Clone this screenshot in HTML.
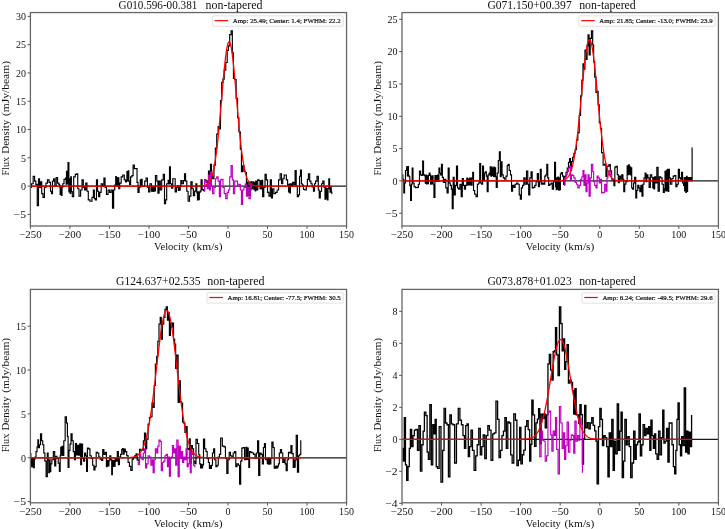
<!DOCTYPE html>
<html><head><meta charset="utf-8"><title>Spectra</title>
<style>
html,body{margin:0;padding:0;background:#fff;}
body{width:725px;height:529px;overflow:hidden;}
svg{display:block;}
svg text{font-family:"Liberation Serif", serif;fill:#111;}
</style></head><body>
<svg width="725" height="529" viewBox="0 0 725 529">
<rect width="725" height="529" fill="#fff"/>
<clipPath id="clip_p1"><rect x="30.4" y="12.55" width="316.15" height="213.45"/></clipPath>
<g clip-path="url(#clip_p1)" fill="none" stroke-linejoin="miter">
<path d="M30.4 186.05H346.55" stroke="#1a1a1a" stroke-width="1.25"/>
<path d="M30.75 187.46H31.56V183.73H33.18V176.21H34.61V181.19H35.86V184.35H37.24V205.56H38.49V178.7H39.54V187.46H40.61V181.81H41.73V193.68H42.98V197.42H44.42V187.46H45.97V183.05H47.47V179.94H49.03V182.43H50.47V191.2H51.53V193.68H52.47V181.19H53.59V178.7H54.84V186.22H56.21V177.45H57.58V183.05H58.83V184.35H59.64V187.01H60.15V194.42H60.77V186.28H61.39V195.38H62.02V187.29H62.77V183.73H64.01V179.32H65.45V178.08H66.13V184.07H66.51V171.23H67.13V183.9H68.01V162.47H68.88V192.04H69.5V178.81H70.13V193.46H70.75V176.89H71.38V191.59H72.31V196.79H73.68V176.83H75.25V174.34H76.68V173.72H77.74V188.71H78.99V196.17H80.62V189.95H82.05V179.94H83.3V187.46H84.55V189.95H85.73V183.05H86.98V191.2H88.29V199.9H89.97V201.21H91.97V197.42H93.41V189.95H94.35V198.66H95.41V199.9H96.47V179.94H97.53V191.2H98.65V196.79H99.78V192.44H101.15V183.73H102.58V186.22H103.9V178.08H105.08V187.46H106.45V194.31H108.07V189.95H109.64V192.44H111.13V189.95H112.5V208.05H113.63V189.95H114.76V185.15H115.69V176.55H116.32V184.81H116.94V177.57H117.57V186.16H118.19V177.91H118.81V188.71H119.74V183.05H121.18V176.83H122.74V174.97H124.24V179.94H125.61V181.81H126.42V180.79H126.92V171.63H127.55V180.85H128.17V170.84H128.8V181.13H129.54V184.35H130.6V176.83H131.85V175.59H133.1V164.96H134.35V168.75H135.78V168.46H137.03V182.43H137.97V192.44H139.09V187.46H139.84V186.39H140.28V179.83H140.91V186.79H141.53V179.21H142.15V186.22H143.27V186.22H144.71V181.19H146.08V178.08H147.45V187.46H148.58V191.82H149.89V183.73H151.45V191.08H152.51V186.95H153.13V191.54H153.76V187.01H154.38V191.03H155.45V175.59H156.82V181.19H157.94V193.06H159.07V181.19H160.31V189.95H161.69V179.94H163.25V174.34H164.5V203.69H165.55V199.9H166.68V183.73H167.49V183.73H168.12V180.28H168.74V183.96H169.49V166.88H170.42V183.73H171.55V188.09H172.79V178.7H174.04V178.7H175.17V191.82H176.42V187.46H177.6V185.77H178.35V190.46H178.98V185.71H179.6V190.18H180.22V185.82H180.84V180.56H181.97V183.73H183.41V180.56H184.53V173.72H185.59V181.19H186.78V191.2H188.09V201.21H189.52V196.17H190.89V181.81H192.14V188.71H193.39V195.55H194.64V191.19H195.89V183.72H196.83V192.6H197.45V199.88H198.07V191.73H198.7V199.75H199.32V192.44H200.13V191.1H201.07V179.79H202.13V189.67H203.44V190.67H204.55V179.8H205.8V180.91H207.23V186.23H208.48V171.03H209.54V184.59H210.48V164.37H211.48V175.93H212.61V178.77H213.98V165.06H215.35V148.17H216.72V134.16H218.09V126.62H219.34V128.83H220.47V100.49H221.71V82.4H222.96V79.17H224.21V70.17H225.77V62.53H227.2V50.38H228.45V45.81H229.7V34.62H231.08V30.77H232.33V52.71H233.45V78.3H234.7V79.45H236.13V98.32H237.57V117.72H238.94V131.86H240.32V149.16H241.44V171.62H242.56V165.8H243.93V171.26H245.3V172.48H246.43V187.94H247.56V182.03H248.93V195.47H250.3V181.75H251.55V188.76H252.8V181.73H253.55V182.2H253.99V189.76H254.61V182.75H255.23V190.82H255.73V180.96H256.54V189.83H257.79V179.88H259.04V180.53H259.98V188.57H260.6V181.11H261.23V188.81H261.85V180.27H262.66V196.79H263.78V187.46H265.03V174.34H266.28V179.94H267.53V192.44H268.9V196.17H270.27V179.94H271.39V198.04H272.52V188.71H273.89V193.68H275.58V192.44H277.14V189.95H278.57V179.94H280.13V173.72H281.51V183.73H282.75V178.7H284.13V174.97H285.31V174.97H286.36V179.94H287.61V184.86H288.55V191.99H289.17V184.07H289.8V193.01H290.42V183.9H291.35V186.22H292.6V182.43H293.85V184.98H295.1V170.61H296.22V186.22H297.29V196.79H298.47V194.93H299.53V176.21H300.47V169.99H301.4V183.73H302.34V184.98H303.46V189.33H304.9V189.95H306.34V186.22H307.39V179.32H308.45V173.72H309.7V181.19H310.95V183.73H312.2V186.84H313.45V191.2H314.51V183.73H315.57V181.19H317.01V176.21H318.32V189.95H319.25V198.04H320.31V191.2H321.56V183.73H322.81V181.19H324.06V187.46H324.99V199.06H325.62V187.92H326.24V198.89H326.87V188.54H327.49V199.9H327.99V188.71H328.8V178.7H329.55V186.56H329.99V192.27H330.61V187.01H331.24V192.1H331.86V193.68H332.17" stroke="#000" stroke-width="1.15"/>
<path d="M204.12 191.2H204.55V180.56H205.8V182.43H207.23V188.71H208.48V174.97H209.54V189.95H210.48V171.86H211.48V186.22H212.61V193.68H213.98V187.46H215.35V178.7H216.72V176.83H218.09V181.19H219.34V196.79H220.47V179.94H221.71V179.32H222.96V187.46H224.21V193.68H225.77V198.66H227.2V192.44H228.45V189.95H229.7V176.83H231.08V165.58H232.33V179.94H233.45V193.68H234.7V181.19H236.13V181.19H237.57V186.22H238.94V184.35H240.32V189.95H241.44V204.32H242.56V189.95H243.93V187.46H245.3V183.73H246.43V196.17H247.56V187.46H248.93V198.66H250.3V183.73H251.55V189.95H252.17" stroke="#bf00bf" stroke-width="1.15"/>
<path d="M30.4 186.05L30.8 186.05L31.19 186.05L31.59 186.05L31.98 186.05L32.38 186.05L32.77 186.05L33.17 186.05L33.56 186.05L33.96 186.05L34.35 186.05L34.75 186.05L35.14 186.05L35.54 186.05L35.93 186.05L36.33 186.05L36.72 186.05L37.12 186.05L37.51 186.05L37.91 186.05L38.3 186.05L38.7 186.05L39.09 186.05L39.49 186.05L39.88 186.05L40.28 186.05L40.67 186.05L41.07 186.05L41.47 186.05L41.86 186.05L42.26 186.05L42.65 186.05L43.05 186.05L43.44 186.05L43.84 186.05L44.23 186.05L44.63 186.05L45.02 186.05L45.42 186.05L45.81 186.05L46.21 186.05L46.6 186.05L47 186.05L47.39 186.05L47.79 186.05L48.18 186.05L48.58 186.05L48.97 186.05L49.37 186.05L49.76 186.05L50.16 186.05L50.55 186.05L50.95 186.05L51.34 186.05L51.74 186.05L52.14 186.05L52.53 186.05L52.93 186.05L53.32 186.05L53.72 186.05L54.11 186.05L54.51 186.05L54.9 186.05L55.3 186.05L55.69 186.05L56.09 186.05L56.48 186.05L56.88 186.05L57.27 186.05L57.67 186.05L58.06 186.05L58.46 186.05L58.85 186.05L59.25 186.05L59.64 186.05L60.04 186.05L60.43 186.05L60.83 186.05L61.22 186.05L61.62 186.05L62.02 186.05L62.41 186.05L62.81 186.05L63.2 186.05L63.6 186.05L63.99 186.05L64.39 186.05L64.78 186.05L65.18 186.05L65.57 186.05L65.97 186.05L66.36 186.05L66.76 186.05L67.15 186.05L67.55 186.05L67.94 186.05L68.34 186.05L68.73 186.05L69.13 186.05L69.52 186.05L69.92 186.05L70.31 186.05L70.71 186.05L71.1 186.05L71.5 186.05L71.89 186.05L72.29 186.05L72.69 186.05L73.08 186.05L73.48 186.05L73.87 186.05L74.27 186.05L74.66 186.05L75.06 186.05L75.45 186.05L75.85 186.05L76.24 186.05L76.64 186.05L77.03 186.05L77.43 186.05L77.82 186.05L78.22 186.05L78.61 186.05L79.01 186.05L79.4 186.05L79.8 186.05L80.19 186.05L80.59 186.05L80.98 186.05L81.38 186.05L81.77 186.05L82.17 186.05L82.56 186.05L82.96 186.05L83.36 186.05L83.75 186.05L84.15 186.05L84.54 186.05L84.94 186.05L85.33 186.05L85.73 186.05L86.12 186.05L86.52 186.05L86.91 186.05L87.31 186.05L87.7 186.05L88.1 186.05L88.49 186.05L88.89 186.05L89.28 186.05L89.68 186.05L90.07 186.05L90.47 186.05L90.86 186.05L91.26 186.05L91.65 186.05L92.05 186.05L92.44 186.05L92.84 186.05L93.23 186.05L93.63 186.05L94.03 186.05L94.42 186.05L94.82 186.05L95.21 186.05L95.61 186.05L96 186.05L96.4 186.05L96.79 186.05L97.19 186.05L97.58 186.05L97.98 186.05L98.37 186.05L98.77 186.05L99.16 186.05L99.56 186.05L99.95 186.05L100.35 186.05L100.74 186.05L101.14 186.05L101.53 186.05L101.93 186.05L102.32 186.05L102.72 186.05L103.11 186.05L103.51 186.05L103.9 186.05L104.3 186.05L104.7 186.05L105.09 186.05L105.49 186.05L105.88 186.05L106.28 186.05L106.67 186.05L107.07 186.05L107.46 186.05L107.86 186.05L108.25 186.05L108.65 186.05L109.04 186.05L109.44 186.05L109.83 186.05L110.23 186.05L110.62 186.05L111.02 186.05L111.41 186.05L111.81 186.05L112.2 186.05L112.6 186.05L112.99 186.05L113.39 186.05L113.78 186.05L114.18 186.05L114.57 186.05L114.97 186.05L115.37 186.05L115.76 186.05L116.16 186.05L116.55 186.05L116.95 186.05L117.34 186.05L117.74 186.05L118.13 186.05L118.53 186.05L118.92 186.05L119.32 186.05L119.71 186.05L120.11 186.05L120.5 186.05L120.9 186.05L121.29 186.05L121.69 186.05L122.08 186.05L122.48 186.05L122.87 186.05L123.27 186.05L123.66 186.05L124.06 186.05L124.45 186.05L124.85 186.05L125.25 186.05L125.64 186.05L126.04 186.05L126.43 186.05L126.83 186.05L127.22 186.05L127.62 186.05L128.01 186.05L128.41 186.05L128.8 186.05L129.2 186.05L129.59 186.05L129.99 186.05L130.38 186.05L130.78 186.05L131.17 186.05L131.57 186.05L131.96 186.05L132.36 186.05L132.75 186.05L133.15 186.05L133.54 186.05L133.94 186.05L134.33 186.05L134.73 186.05L135.12 186.05L135.52 186.05L135.92 186.05L136.31 186.05L136.71 186.05L137.1 186.05L137.5 186.05L137.89 186.05L138.29 186.05L138.68 186.05L139.08 186.05L139.47 186.05L139.87 186.05L140.26 186.05L140.66 186.05L141.05 186.05L141.45 186.05L141.84 186.05L142.24 186.05L142.63 186.05L143.03 186.05L143.42 186.05L143.82 186.05L144.21 186.05L144.61 186.05L145 186.05L145.4 186.05L145.79 186.05L146.19 186.05L146.59 186.05L146.98 186.05L147.38 186.05L147.77 186.05L148.17 186.05L148.56 186.05L148.96 186.05L149.35 186.05L149.75 186.05L150.14 186.05L150.54 186.05L150.93 186.05L151.33 186.05L151.72 186.05L152.12 186.05L152.51 186.05L152.91 186.05L153.3 186.05L153.7 186.05L154.09 186.05L154.49 186.05L154.88 186.05L155.28 186.05L155.67 186.05L156.07 186.05L156.46 186.05L156.86 186.05L157.26 186.05L157.65 186.05L158.05 186.05L158.44 186.05L158.84 186.05L159.23 186.05L159.63 186.05L160.02 186.05L160.42 186.05L160.81 186.05L161.21 186.05L161.6 186.05L162 186.05L162.39 186.05L162.79 186.05L163.18 186.05L163.58 186.05L163.97 186.05L164.37 186.05L164.76 186.05L165.16 186.05L165.55 186.05L165.95 186.05L166.34 186.05L166.74 186.05L167.13 186.05L167.53 186.05L167.93 186.05L168.32 186.05L168.72 186.05L169.11 186.05L169.51 186.05L169.9 186.05L170.3 186.05L170.69 186.05L171.09 186.05L171.48 186.05L171.88 186.05L172.27 186.05L172.67 186.05L173.06 186.05L173.46 186.05L173.85 186.05L174.25 186.05L174.64 186.05L175.04 186.05L175.43 186.05L175.83 186.05L176.22 186.05L176.62 186.05L177.01 186.05L177.41 186.05L177.8 186.05L178.2 186.05L178.6 186.05L178.99 186.05L179.39 186.05L179.78 186.05L180.18 186.05L180.57 186.05L180.97 186.05L181.36 186.05L181.76 186.05L182.15 186.05L182.55 186.05L182.94 186.05L183.34 186.05L183.73 186.05L184.13 186.05L184.52 186.05L184.92 186.05L185.31 186.05L185.71 186.05L186.1 186.05L186.5 186.05L186.89 186.05L187.29 186.05L187.68 186.05L188.08 186.05L188.48 186.05L188.87 186.05L189.27 186.05L189.66 186.05L190.06 186.05L190.45 186.05L190.85 186.05L191.24 186.05L191.64 186.05L192.03 186.05L192.43 186.05L192.82 186.05L193.22 186.05L193.61 186.05L194.01 186.05L194.4 186.05L194.8 186.05L195.19 186.05L195.59 186.04L195.98 186.04L196.38 186.04L196.77 186.04L197.17 186.04L197.56 186.03L197.96 186.03L198.35 186.02L198.75 186.01L199.15 186.01L199.54 185.99L199.94 185.98L200.33 185.97L200.73 185.95L201.12 185.92L201.52 185.9L201.91 185.86L202.31 185.83L202.7 185.78L203.1 185.72L203.49 185.66L203.89 185.58L204.28 185.49L204.68 185.38L205.07 185.25L205.47 185.11L205.86 184.94L206.26 184.74L206.65 184.51L207.05 184.24L207.44 183.94L207.84 183.59L208.23 183.19L208.63 182.74L209.02 182.23L209.42 181.64L209.82 180.99L210.21 180.25L210.61 179.43L211 178.51L211.4 177.48L211.79 176.34L212.19 175.09L212.58 173.7L212.98 172.18L213.37 170.52L213.77 168.7L214.16 166.73L214.56 164.59L214.95 162.28L215.35 159.8L215.74 157.14L216.14 154.3L216.53 151.29L216.93 148.09L217.32 144.71L217.72 141.16L218.11 137.44L218.51 133.56L218.9 129.53L219.3 125.36L219.69 121.06L220.09 116.66L220.49 112.17L220.88 107.61L221.28 103L221.67 98.37L222.07 93.73L222.46 89.13L222.86 84.58L223.25 80.12L223.65 75.77L224.04 71.57L224.44 67.54L224.83 63.71L225.23 60.12L225.62 56.78L226.02 53.73L226.41 50.98L226.81 48.57L227.2 46.5L227.6 44.8L227.99 43.48L228.39 42.56L228.78 42.03L229.18 41.91L229.57 42.2L229.97 42.88L230.36 43.97L230.76 45.44L231.16 47.28L231.55 49.49L231.95 52.04L232.34 54.91L232.74 58.08L233.13 61.53L233.53 65.22L233.92 69.13L234.32 73.23L234.71 77.5L235.11 81.89L235.5 86.39L235.9 90.97L236.29 95.58L236.69 100.22L237.08 104.85L237.48 109.44L237.87 113.98L238.27 118.43L238.66 122.79L239.06 127.04L239.45 131.16L239.85 135.13L240.24 138.94L240.64 142.6L241.03 146.08L241.43 149.39L241.83 152.51L242.22 155.46L242.62 158.23L243.01 160.82L243.41 163.23L243.8 165.46L244.2 167.54L244.59 169.45L244.99 171.2L245.38 172.81L245.78 174.27L246.17 175.6L246.57 176.81L246.96 177.9L247.36 178.89L247.75 179.77L248.15 180.56L248.54 181.26L248.94 181.89L249.33 182.44L249.73 182.93L250.12 183.36L250.52 183.74L250.91 184.07L251.31 184.35L251.71 184.6L252.1 184.82L252.5 185.01L252.89 185.17L253.29 185.31L253.68 185.43L254.08 185.53L254.47 185.61L254.87 185.69L255.26 185.75L255.66 185.8L256.05 185.84L256.45 185.88L256.84 185.91L257.24 185.93L257.63 185.96L258.03 185.97L258.42 185.99L258.82 186L259.21 186.01L259.61 186.02L260 186.02L260.4 186.03L260.79 186.03L261.19 186.04L261.58 186.04L261.98 186.04L262.38 186.04L262.77 186.04L263.17 186.05L263.56 186.05L263.96 186.05L264.35 186.05L264.75 186.05L265.14 186.05L265.54 186.05L265.93 186.05L266.33 186.05L266.72 186.05L267.12 186.05L267.51 186.05L267.91 186.05L268.3 186.05L268.7 186.05L269.09 186.05L269.49 186.05L269.88 186.05L270.28 186.05L270.67 186.05L271.07 186.05L271.46 186.05L271.86 186.05L272.25 186.05L272.65 186.05L273.05 186.05L273.44 186.05L273.84 186.05L274.23 186.05L274.63 186.05L275.02 186.05L275.42 186.05L275.81 186.05L276.21 186.05L276.6 186.05L277 186.05L277.39 186.05L277.79 186.05L278.18 186.05L278.58 186.05L278.97 186.05L279.37 186.05L279.76 186.05L280.16 186.05L280.55 186.05L280.95 186.05L281.34 186.05L281.74 186.05L282.13 186.05L282.53 186.05L282.92 186.05L283.32 186.05L283.72 186.05L284.11 186.05L284.51 186.05L284.9 186.05L285.3 186.05L285.69 186.05L286.09 186.05L286.48 186.05L286.88 186.05L287.27 186.05L287.67 186.05L288.06 186.05L288.46 186.05L288.85 186.05L289.25 186.05L289.64 186.05L290.04 186.05L290.43 186.05L290.83 186.05L291.22 186.05L291.62 186.05L292.01 186.05L292.41 186.05L292.8 186.05L293.2 186.05L293.59 186.05L293.99 186.05L294.39 186.05L294.78 186.05L295.18 186.05L295.57 186.05L295.97 186.05L296.36 186.05L296.76 186.05L297.15 186.05L297.55 186.05L297.94 186.05L298.34 186.05L298.73 186.05L299.13 186.05L299.52 186.05L299.92 186.05L300.31 186.05L300.71 186.05L301.1 186.05L301.5 186.05L301.89 186.05L302.29 186.05L302.68 186.05L303.08 186.05L303.47 186.05L303.87 186.05L304.26 186.05L304.66 186.05L305.06 186.05L305.45 186.05L305.85 186.05L306.24 186.05L306.64 186.05L307.03 186.05L307.43 186.05L307.82 186.05L308.22 186.05L308.61 186.05L309.01 186.05L309.4 186.05L309.8 186.05L310.19 186.05L310.59 186.05L310.98 186.05L311.38 186.05L311.77 186.05L312.17 186.05L312.56 186.05L312.96 186.05L313.35 186.05L313.75 186.05L314.14 186.05L314.54 186.05L314.94 186.05L315.33 186.05L315.73 186.05L316.12 186.05L316.52 186.05L316.91 186.05L317.31 186.05L317.7 186.05L318.1 186.05L318.49 186.05L318.89 186.05L319.28 186.05L319.68 186.05L320.07 186.05L320.47 186.05L320.86 186.05L321.26 186.05L321.65 186.05L322.05 186.05L322.44 186.05L322.84 186.05L323.23 186.05L323.63 186.05L324.02 186.05L324.42 186.05L324.81 186.05L325.21 186.05L325.61 186.05L326 186.05L326.4 186.05L326.79 186.05L327.19 186.05L327.58 186.05L327.98 186.05L328.37 186.05L328.77 186.05L329.16 186.05L329.56 186.05L329.95 186.05L330.35 186.05L330.74 186.05L331.14 186.05L331.53 186.05L331.93 186.05" stroke="#f00" stroke-width="1.3" stroke-linejoin="round"/>
</g>
<rect x="30.4" y="12.55" width="316.15" height="213.45" fill="none" stroke="#666" stroke-width="1.3"/>
<path d="M30.4 226v2.8M69.92 226v2.8M109.44 226v2.8M148.96 226v2.8M188.48 226v2.8M227.99 226v2.8M267.51 226v2.8M307.03 226v2.8M346.55 226v2.8M30.4 214.33h-2.8M30.4 186.05h-2.8M30.4 157.78h-2.8M30.4 129.5h-2.8M30.4 101.23h-2.8M30.4 72.95h-2.8M30.4 44.68h-2.8M30.4 16.4h-2.8" stroke="#555" stroke-width="1.0" fill="none"/>
<text x="30.4" y="238.1" text-anchor="middle" font-size="9.7" textLength="22.4" lengthAdjust="spacingAndGlyphs">−250</text>
<text x="69.92" y="238.1" text-anchor="middle" font-size="9.7" textLength="22.4" lengthAdjust="spacingAndGlyphs">−200</text>
<text x="109.44" y="238.1" text-anchor="middle" font-size="9.7" textLength="22.4" lengthAdjust="spacingAndGlyphs">−150</text>
<text x="148.96" y="238.1" text-anchor="middle" font-size="9.7" textLength="22.4" lengthAdjust="spacingAndGlyphs">−100</text>
<text x="188.48" y="238.1" text-anchor="middle" font-size="9.7" textLength="17.4" lengthAdjust="spacingAndGlyphs">−50</text>
<text x="227.99" y="238.1" text-anchor="middle" font-size="9.7" textLength="5" lengthAdjust="spacingAndGlyphs">0</text>
<text x="267.51" y="238.1" text-anchor="middle" font-size="9.7" textLength="10" lengthAdjust="spacingAndGlyphs">50</text>
<text x="307.03" y="238.1" text-anchor="middle" font-size="9.7" textLength="15" lengthAdjust="spacingAndGlyphs">100</text>
<text x="346.55" y="238.1" text-anchor="middle" font-size="9.7" textLength="15" lengthAdjust="spacingAndGlyphs">150</text>
<text x="26" y="218.08" text-anchor="end" font-size="9.7" textLength="12.4" lengthAdjust="spacingAndGlyphs">−5</text>
<text x="26" y="189.8" text-anchor="end" font-size="9.7" textLength="5" lengthAdjust="spacingAndGlyphs">0</text>
<text x="26" y="161.53" text-anchor="end" font-size="9.7" textLength="5" lengthAdjust="spacingAndGlyphs">5</text>
<text x="26" y="133.25" text-anchor="end" font-size="9.7" textLength="10" lengthAdjust="spacingAndGlyphs">10</text>
<text x="26" y="104.98" text-anchor="end" font-size="9.7" textLength="10" lengthAdjust="spacingAndGlyphs">15</text>
<text x="26" y="76.7" text-anchor="end" font-size="9.7" textLength="10" lengthAdjust="spacingAndGlyphs">20</text>
<text x="26" y="48.43" text-anchor="end" font-size="9.7" textLength="10" lengthAdjust="spacingAndGlyphs">25</text>
<text x="26" y="20.15" text-anchor="end" font-size="9.7" textLength="10" lengthAdjust="spacingAndGlyphs">30</text>
<text y="249.8" font-size="10"><tspan x="154.07" textLength="35" lengthAdjust="spacingAndGlyphs">Velocity</tspan><tspan x="192.78" textLength="29.8" lengthAdjust="spacingAndGlyphs">(km/s)</tspan></text>
<text transform="translate(8.9 119.28) rotate(-90)" y="0" font-size="10"><tspan x="-56.2" textLength="18.5" lengthAdjust="spacingAndGlyphs">Flux</tspan><tspan x="-34.4" textLength="33.8" lengthAdjust="spacingAndGlyphs">Density</tspan><tspan x="3.3" textLength="55" lengthAdjust="spacingAndGlyphs">(mJy/beam)</tspan></text>
<text y="8.7" font-size="12"><tspan x="118.6" textLength="78.7" lengthAdjust="spacingAndGlyphs">G010.596-00.381</tspan><tspan x="205.5" textLength="57" lengthAdjust="spacingAndGlyphs">non-tapered</tspan></text>
<rect x="212.35" y="15.85" width="130.9" height="10.4" rx="1.2" fill="#fff" fill-opacity="0.8" stroke="#ccc" stroke-width="0.6"/>
<path d="M214.65 20.65h13.5" stroke="#f00" stroke-width="1.2"/>
<text x="232.75" y="23.05" font-size="7.1" stroke="#111" stroke-width="0.22" textLength="108" lengthAdjust="spacingAndGlyphs">Amp: 25.49; Center: 1.4; FWHM: 22.2</text>
<clipPath id="clip_p2"><rect x="402" y="12.55" width="316.4" height="213.45"/></clipPath>
<g clip-path="url(#clip_p2)" fill="none" stroke-linejoin="miter">
<path d="M402 180.9H718.4" stroke="#1a1a1a" stroke-width="1.25"/>
<path d="M402.25 174.82H402.87V179.22H403.81V192.92H404.55V182.97H405.49V170.49H406.62V166.75H407.36V175.86H407.8V166.68H408.43V175.66H409.05V176.7H409.8V185.42H410.61V200.42H411.42V184.2H412.17V167.97H412.98V182.97H414.1V186.72H415.48V187.69H416.98V187.3H418.35V184.2H419.47V171.08H420.6V174.82H421.72V175.47H422.66V161.12H423.53V174.82H424.46V175.66H425.28V183.1H425.9V174.95H426.52V184H427.15V175.92H427.77V183.55H428.4V175.34H429.21V172.95H429.96V174.95H430.52V184.13H431.14V175.99H431.77V183.61H432.39V175.92H433.08V184.2H433.95V197.32H434.95V175.54H435.76V181.42H436.39V175.66H437.01V181.09H437.64V174.95H438.26V181.35H438.94V167.97H439.76V172.95H440.57V174.82H441.44V164.23H442.38V177.35H443.38V182.32H444.56V179.22H445.81V187.94H447.06V192.92H448.18V167.97H449.18V182.97H450.31V185.42H451.37V189.17H452.24V208.56H453.18V177.35H454.17V194.8H455.3V185.42H456.48V166.1H457.54V187.94H458.67V189.17H459.92V184.2H461.17V196.67H462.29V178.57H463.35V185.42H464.41V189.17H465.53V185.42H466.78V177.99H467.72V184.84H468.35V179.03H468.97V185.04H469.59V178.19H470.21V184.97H470.84V177.99H471.46V185.23H472.09V178.44H472.71V172.37H473.52V190.47H474.65V194.21H476.02V196.67H477.39V184.2H478.64V182.97H479.7V163.58H480.64V182.97H481.64V184.2H482.57V166.1H483.51V180.45H484.45V172.95H485.38V171.72H486.32V176.12H487.19V191.69H488.13V174.82H489.13V172.95H489.75V174.82H490.18V166.88H490.81V176.18H491.43V167H492.06V175.47H492.68V167.97H493.31V176.31H493.93V167.07H494.55V176.63H495.18V167.72H495.61V176.7H496.24V187.3H497.24V172.95H498.3V160.48H499.36V151.75H500.29V176.7H501.11V161.7H502.05V174.82H503.23V177.93H504.54V179.22H505.97V176.12H507.22V165.45H508.16V164.23H509.22V170.49H510.47V174.82H511.53V191.05H512.59V185.42H513.84V187.3H515.09V184.2H516.52V182.97H517.96V184.2H519.21V194.8H520.33V199.19H521.39V187.94H522.58V185.42H523.83V177.93H525.07V184.2H526.51V171.08H527.76V184.2H528.69V194.8H529.82V177.93H531.07V171.72H532.19V187.94H533.44V187.3H534.81V185.42H536.06V181.68H537.31V173.6H538.43V186.72H539.37V181.68H540.3V169.2H541.24V184.2H542.3V182.97H543.55V184.2H544.8V176.12H545.86V174.82H546.79V164.23H547.73V177.93H548.67V185.42H549.79V184.2H551.04V182.97H552.29V189.17H553.53V181.67H554.6V162.34H555.53V186.69H556.22V189.6H556.72V177.82H557.34V189.05H557.97V177.14H558.59V190.11H559.22V178.05H559.84V189.77H560.4V174.02H561.28V172.56H562.52V176.05H563.63V184.46H564.74V176.37H565.99V172.37H567.23V167.95H568.48V162.31H569.54V158.69H570.48V170.48H571.48V161.66H572.6V157.21H573.85V153.22H575.1V149.73H576.47V140.06H577.85V132.66H579.22V115.31H580.59V95.93H581.84V80.14H582.96V63.72H583.96V69.17H584.96V50.17H586.02V59.32H587.08V45.58H588.02V34.73H589.08V54.93H590.2V38.37H591.45V30.94H592.7V44.98H593.64V61.87H594.7V77.17H595.95V92.47H597.07V91.23H598.13V104.93H599.31V122.66H600.44V128.32H601.56V152.66H603.12V165.28H604.68V164.01H605.93V176.38H606.99V166.37H607.93V166.14H609.05V164.55H610.3V170.86H611.55V178.5H612.79V180.03H613.92V185.59H614.85V167.17H616.04V166.31H617.29V174.55H618.29V182.79H619.35V176.01H620.54V179.16H621.78V174.79H622.91V179.2H623.78V191.68H624.71V184.19H625.9V181.67H627.15V165.71H628.09V174.63H628.71V164.87H629.34V174.05H629.96V166.81H630.59V174.82H631.21V167.72H631.71V187.94H632.52V189.17H633.58V182.97H634.64V177.35H635.76V197.96H636.7V190.47H637.76V185.42H638.88V187.94H639.82V191.69H640.88V185.42H642.01V196.09H642.94V184.2H644V177.93H645.13V172.95H645.93V181.68H646.74V174.82H647.86V177.93H649.11V187.3H650.35V174.82H651.73V177.28H652.79V187.82H653.42V177.6H654.04V189.04H654.66V176.76H655.59V182.97H656.84V167.33H658.09V191.05H659.34V176.7H660.72V177.93H662.09V184.2H663.34V192.34H664.34V188.91H665.02V171.27H665.64V190.92H666.27V170.43H666.89V190.72H667.52V169.2H668.14V191.31H668.77V169.33H669.39V177.93H670.45V184.2H671.83V178.57H673.2V176.12H674.57V175.47H675.82V186.72H677.07V184.2H678.31V169.2H679.44V177.93H680.44V179.22H681.5V172.37H682.56V182.97H683.56V185.42H684.18V177.6H684.62V190.85H685.25V177.54H685.87V192.4H686.49V176.25H687.11V191.31H687.61V177.93H687.93V180.19H688.36V177.6H688.99V179.93H689.61V177.54H690.24V180.12H690.86V177.54H691.49V180.19H692.11V147.94H692.42" stroke="#000" stroke-width="1.15"/>
<path d="M564.12 185.42H564.74V177.93H565.99V174.82H567.23V171.72H568.48V167.97H569.54V166.1H570.48V180.45H571.48V174.82H572.6V175.47H573.85V177.93H575.1V182.32H576.47V184.2H577.85V187.94H579.22V185.42H580.59V179.22H581.84V176.7H582.96V170.49H583.96V185.42H584.96V174.82H586.02V191.69H587.08V182.97H588.02V174.82H589.08V196.09H590.2V177.93H591.45V164.23H592.7V171.72H593.64V181.68H594.7V185.42H595.95V187.94H597.07V176.12H598.13V177.93H599.31V182.97H600.44V179.22H601.56V192.92H603.12V192.34H604.68V184.2H605.93V191.05H606.99V177.93H607.93V174.82H609.05V170.49H610.3V174.82H611.55V181.09H612.17" stroke="#bf00bf" stroke-width="1.15"/>
<path d="M402 180.9L402.4 180.9L402.79 180.9L403.19 180.9L403.58 180.9L403.98 180.9L404.37 180.9L404.77 180.9L405.16 180.9L405.56 180.9L405.95 180.9L406.35 180.9L406.75 180.9L407.14 180.9L407.54 180.9L407.93 180.9L408.33 180.9L408.72 180.9L409.12 180.9L409.51 180.9L409.91 180.9L410.31 180.9L410.7 180.9L411.1 180.9L411.49 180.9L411.89 180.9L412.28 180.9L412.68 180.9L413.07 180.9L413.47 180.9L413.87 180.9L414.26 180.9L414.66 180.9L415.05 180.9L415.45 180.9L415.84 180.9L416.24 180.9L416.63 180.9L417.03 180.9L417.42 180.9L417.82 180.9L418.22 180.9L418.61 180.9L419.01 180.9L419.4 180.9L419.8 180.9L420.19 180.9L420.59 180.9L420.98 180.9L421.38 180.9L421.77 180.9L422.17 180.9L422.57 180.9L422.96 180.9L423.36 180.9L423.75 180.9L424.15 180.9L424.54 180.9L424.94 180.9L425.33 180.9L425.73 180.9L426.13 180.9L426.52 180.9L426.92 180.9L427.31 180.9L427.71 180.9L428.1 180.9L428.5 180.9L428.89 180.9L429.29 180.9L429.69 180.9L430.08 180.9L430.48 180.9L430.87 180.9L431.27 180.9L431.66 180.9L432.06 180.9L432.45 180.9L432.85 180.9L433.24 180.9L433.64 180.9L434.04 180.9L434.43 180.9L434.83 180.9L435.22 180.9L435.62 180.9L436.01 180.9L436.41 180.9L436.8 180.9L437.2 180.9L437.6 180.9L437.99 180.9L438.39 180.9L438.78 180.9L439.18 180.9L439.57 180.9L439.97 180.9L440.36 180.9L440.76 180.9L441.15 180.9L441.55 180.9L441.95 180.9L442.34 180.9L442.74 180.9L443.13 180.9L443.53 180.9L443.92 180.9L444.32 180.9L444.71 180.9L445.11 180.9L445.5 180.9L445.9 180.9L446.3 180.9L446.69 180.9L447.09 180.9L447.48 180.9L447.88 180.9L448.27 180.9L448.67 180.9L449.06 180.9L449.46 180.9L449.86 180.9L450.25 180.9L450.65 180.9L451.04 180.9L451.44 180.9L451.83 180.9L452.23 180.9L452.62 180.9L453.02 180.9L453.41 180.9L453.81 180.9L454.21 180.9L454.6 180.9L455 180.9L455.39 180.9L455.79 180.9L456.18 180.9L456.58 180.9L456.97 180.9L457.37 180.9L457.77 180.9L458.16 180.9L458.56 180.9L458.95 180.9L459.35 180.9L459.74 180.9L460.14 180.9L460.53 180.9L460.93 180.9L461.32 180.9L461.72 180.9L462.12 180.9L462.51 180.9L462.91 180.9L463.3 180.9L463.7 180.9L464.09 180.9L464.49 180.9L464.88 180.9L465.28 180.9L465.68 180.9L466.07 180.9L466.47 180.9L466.86 180.9L467.26 180.9L467.65 180.9L468.05 180.9L468.44 180.9L468.84 180.9L469.24 180.9L469.63 180.9L470.03 180.9L470.42 180.9L470.82 180.9L471.21 180.9L471.61 180.9L472 180.9L472.4 180.9L472.79 180.9L473.19 180.9L473.59 180.9L473.98 180.9L474.38 180.9L474.77 180.9L475.17 180.9L475.56 180.9L475.96 180.9L476.35 180.9L476.75 180.9L477.14 180.9L477.54 180.9L477.94 180.9L478.33 180.9L478.73 180.9L479.12 180.9L479.52 180.9L479.91 180.9L480.31 180.9L480.7 180.9L481.1 180.9L481.5 180.9L481.89 180.9L482.29 180.9L482.68 180.9L483.08 180.9L483.47 180.9L483.87 180.9L484.26 180.9L484.66 180.9L485.06 180.9L485.45 180.9L485.85 180.9L486.24 180.9L486.64 180.9L487.03 180.9L487.43 180.9L487.82 180.9L488.22 180.9L488.61 180.9L489.01 180.9L489.41 180.9L489.8 180.9L490.2 180.9L490.59 180.9L490.99 180.9L491.38 180.9L491.78 180.9L492.17 180.9L492.57 180.9L492.96 180.9L493.36 180.9L493.76 180.9L494.15 180.9L494.55 180.9L494.94 180.9L495.34 180.9L495.73 180.9L496.13 180.9L496.52 180.9L496.92 180.9L497.32 180.9L497.71 180.9L498.11 180.9L498.5 180.9L498.9 180.9L499.29 180.9L499.69 180.9L500.08 180.9L500.48 180.9L500.88 180.9L501.27 180.9L501.67 180.9L502.06 180.9L502.46 180.9L502.85 180.9L503.25 180.9L503.64 180.9L504.04 180.9L504.43 180.9L504.83 180.9L505.23 180.9L505.62 180.9L506.02 180.9L506.41 180.9L506.81 180.9L507.2 180.9L507.6 180.9L507.99 180.9L508.39 180.9L508.78 180.9L509.18 180.9L509.58 180.9L509.97 180.9L510.37 180.9L510.76 180.9L511.16 180.9L511.55 180.9L511.95 180.9L512.34 180.9L512.74 180.9L513.14 180.9L513.53 180.9L513.93 180.9L514.32 180.9L514.72 180.9L515.11 180.9L515.51 180.9L515.9 180.9L516.3 180.9L516.69 180.9L517.09 180.9L517.49 180.9L517.88 180.9L518.28 180.9L518.67 180.9L519.07 180.9L519.46 180.9L519.86 180.9L520.25 180.9L520.65 180.9L521.05 180.9L521.44 180.9L521.84 180.9L522.23 180.9L522.63 180.9L523.02 180.9L523.42 180.9L523.81 180.9L524.21 180.9L524.61 180.9L525 180.9L525.4 180.9L525.79 180.9L526.19 180.9L526.58 180.9L526.98 180.9L527.37 180.9L527.77 180.9L528.16 180.9L528.56 180.9L528.96 180.9L529.35 180.9L529.75 180.9L530.14 180.9L530.54 180.9L530.93 180.9L531.33 180.9L531.72 180.9L532.12 180.9L532.51 180.9L532.91 180.9L533.31 180.9L533.7 180.9L534.1 180.9L534.49 180.9L534.89 180.9L535.28 180.9L535.68 180.9L536.07 180.9L536.47 180.9L536.87 180.9L537.26 180.9L537.66 180.9L538.05 180.9L538.45 180.9L538.84 180.9L539.24 180.9L539.63 180.9L540.03 180.9L540.42 180.9L540.82 180.9L541.22 180.9L541.61 180.9L542.01 180.9L542.4 180.9L542.8 180.9L543.19 180.9L543.59 180.9L543.98 180.9L544.38 180.9L544.78 180.9L545.17 180.9L545.57 180.9L545.96 180.9L546.36 180.9L546.75 180.9L547.15 180.9L547.54 180.9L547.94 180.9L548.34 180.9L548.73 180.9L549.13 180.9L549.52 180.9L549.92 180.9L550.31 180.9L550.71 180.9L551.1 180.9L551.5 180.9L551.89 180.9L552.29 180.9L552.69 180.9L553.08 180.9L553.48 180.89L553.87 180.89L554.27 180.89L554.66 180.89L555.06 180.89L555.45 180.88L555.85 180.88L556.25 180.87L556.64 180.87L557.04 180.86L557.43 180.85L557.83 180.84L558.22 180.83L558.62 180.81L559.01 180.79L559.41 180.77L559.8 180.75L560.2 180.72L560.6 180.68L560.99 180.64L561.39 180.59L561.78 180.53L562.18 180.46L562.57 180.38L562.97 180.29L563.36 180.19L563.76 180.06L564.15 179.92L564.55 179.76L564.95 179.57L565.34 179.35L565.74 179.11L566.13 178.83L566.53 178.52L566.92 178.16L567.32 177.76L567.71 177.3L568.11 176.8L568.51 176.23L568.9 175.59L569.3 174.89L569.69 174.1L570.09 173.23L570.48 172.28L570.88 171.22L571.27 170.07L571.67 168.8L572.07 167.42L572.46 165.92L572.86 164.29L573.25 162.53L573.65 160.64L574.04 158.6L574.44 156.41L574.83 154.08L575.23 151.6L575.62 148.96L576.02 146.17L576.42 143.23L576.81 140.14L577.21 136.9L577.6 133.52L578 130L578.39 126.36L578.79 122.59L579.18 118.72L579.58 114.75L579.98 110.7L580.37 106.58L580.77 102.41L581.16 98.2L581.56 93.99L581.95 89.77L582.35 85.59L582.74 81.45L583.14 77.39L583.53 73.42L583.93 69.57L584.33 65.87L584.72 62.32L585.12 58.97L585.51 55.82L585.91 52.9L586.3 50.24L586.7 47.84L587.09 45.72L587.49 43.9L587.88 42.4L588.28 41.22L588.68 40.37L589.07 39.85L589.47 39.68L589.86 39.85L590.26 40.37L590.65 41.22L591.05 42.4L591.44 43.9L591.84 45.72L592.24 47.84L592.63 50.24L593.03 52.9L593.42 55.82L593.82 58.97L594.21 62.32L594.61 65.87L595 69.57L595.4 73.42L595.79 77.39L596.19 81.45L596.59 85.59L596.98 89.77L597.38 93.99L597.77 98.2L598.17 102.41L598.56 106.58L598.96 110.7L599.35 114.75L599.75 118.72L600.15 122.59L600.54 126.36L600.94 130L601.33 133.52L601.73 136.9L602.12 140.14L602.52 143.23L602.91 146.17L603.31 148.96L603.7 151.6L604.1 154.08L604.5 156.41L604.89 158.6L605.29 160.64L605.68 162.53L606.08 164.29L606.47 165.92L606.87 167.42L607.26 168.8L607.66 170.07L608.06 171.22L608.45 172.28L608.85 173.23L609.24 174.1L609.64 174.89L610.03 175.59L610.43 176.23L610.82 176.8L611.22 177.3L611.62 177.76L612.01 178.16L612.41 178.52L612.8 178.83L613.2 179.11L613.59 179.35L613.99 179.57L614.38 179.76L614.78 179.92L615.17 180.06L615.57 180.19L615.97 180.29L616.36 180.38L616.76 180.46L617.15 180.53L617.55 180.59L617.94 180.64L618.34 180.68L618.73 180.72L619.13 180.75L619.52 180.77L619.92 180.79L620.32 180.81L620.71 180.83L621.11 180.84L621.5 180.85L621.9 180.86L622.29 180.87L622.69 180.87L623.08 180.88L623.48 180.88L623.88 180.89L624.27 180.89L624.67 180.89L625.06 180.89L625.46 180.89L625.85 180.9L626.25 180.9L626.64 180.9L627.04 180.9L627.43 180.9L627.83 180.9L628.23 180.9L628.62 180.9L629.02 180.9L629.41 180.9L629.81 180.9L630.2 180.9L630.6 180.9L630.99 180.9L631.39 180.9L631.79 180.9L632.18 180.9L632.58 180.9L632.97 180.9L633.37 180.9L633.76 180.9L634.16 180.9L634.55 180.9L634.95 180.9L635.35 180.9L635.74 180.9L636.14 180.9L636.53 180.9L636.93 180.9L637.32 180.9L637.72 180.9L638.11 180.9L638.51 180.9L638.9 180.9L639.3 180.9L639.7 180.9L640.09 180.9L640.49 180.9L640.88 180.9L641.28 180.9L641.67 180.9L642.07 180.9L642.46 180.9L642.86 180.9L643.25 180.9L643.65 180.9L644.05 180.9L644.44 180.9L644.84 180.9L645.23 180.9L645.63 180.9L646.02 180.9L646.42 180.9L646.81 180.9L647.21 180.9L647.61 180.9L648 180.9L648.4 180.9L648.79 180.9L649.19 180.9L649.58 180.9L649.98 180.9L650.37 180.9L650.77 180.9L651.16 180.9L651.56 180.9L651.96 180.9L652.35 180.9L652.75 180.9L653.14 180.9L653.54 180.9L653.93 180.9L654.33 180.9L654.72 180.9L655.12 180.9L655.52 180.9L655.91 180.9L656.31 180.9L656.7 180.9L657.1 180.9L657.49 180.9L657.89 180.9L658.28 180.9L658.68 180.9L659.08 180.9L659.47 180.9L659.87 180.9L660.26 180.9L660.66 180.9L661.05 180.9L661.45 180.9L661.84 180.9L662.24 180.9L662.63 180.9L663.03 180.9L663.43 180.9L663.82 180.9L664.22 180.9L664.61 180.9L665.01 180.9L665.4 180.9L665.8 180.9L666.19 180.9L666.59 180.9L666.98 180.9L667.38 180.9L667.78 180.9L668.17 180.9L668.57 180.9L668.96 180.9L669.36 180.9L669.75 180.9L670.15 180.9L670.54 180.9L670.94 180.9L671.34 180.9L671.73 180.9L672.13 180.9L672.52 180.9L672.92 180.9L673.31 180.9L673.71 180.9L674.1 180.9L674.5 180.9L674.89 180.9L675.29 180.9L675.69 180.9L676.08 180.9L676.48 180.9L676.87 180.9L677.27 180.9L677.66 180.9L678.06 180.9L678.45 180.9L678.85 180.9L679.25 180.9L679.64 180.9L680.04 180.9L680.43 180.9L680.83 180.9L681.22 180.9L681.62 180.9L682.01 180.9L682.41 180.9L682.8 180.9L683.2 180.9L683.6 180.9L683.99 180.9L684.39 180.9L684.78 180.9L685.18 180.9L685.57 180.9L685.97 180.9L686.36 180.9L686.76 180.9L687.16 180.9L687.55 180.9L687.95 180.9L688.34 180.9L688.74 180.9L689.13 180.9L689.53 180.9L689.92 180.9L690.32 180.9L690.71 180.9L691.11 180.9L691.51 180.9L691.9 180.9L692.3 180.9" stroke="#f00" stroke-width="1.3" stroke-linejoin="round"/>
</g>
<rect x="402" y="12.55" width="316.4" height="213.45" fill="none" stroke="#666" stroke-width="1.3"/>
<path d="M402 226v2.8M441.55 226v2.8M481.1 226v2.8M520.65 226v2.8M560.2 226v2.8M599.75 226v2.8M639.3 226v2.8M678.85 226v2.8M718.4 226v2.8M402 213.22h-2.8M402 180.9h-2.8M402 148.59h-2.8M402 116.27h-2.8M402 83.95h-2.8M402 51.64h-2.8M402 19.33h-2.8" stroke="#555" stroke-width="1.0" fill="none"/>
<text x="402" y="238.1" text-anchor="middle" font-size="9.7" textLength="22.4" lengthAdjust="spacingAndGlyphs">−250</text>
<text x="441.55" y="238.1" text-anchor="middle" font-size="9.7" textLength="22.4" lengthAdjust="spacingAndGlyphs">−200</text>
<text x="481.1" y="238.1" text-anchor="middle" font-size="9.7" textLength="22.4" lengthAdjust="spacingAndGlyphs">−150</text>
<text x="520.65" y="238.1" text-anchor="middle" font-size="9.7" textLength="22.4" lengthAdjust="spacingAndGlyphs">−100</text>
<text x="560.2" y="238.1" text-anchor="middle" font-size="9.7" textLength="17.4" lengthAdjust="spacingAndGlyphs">−50</text>
<text x="599.75" y="238.1" text-anchor="middle" font-size="9.7" textLength="5" lengthAdjust="spacingAndGlyphs">0</text>
<text x="639.3" y="238.1" text-anchor="middle" font-size="9.7" textLength="10" lengthAdjust="spacingAndGlyphs">50</text>
<text x="678.85" y="238.1" text-anchor="middle" font-size="9.7" textLength="15" lengthAdjust="spacingAndGlyphs">100</text>
<text x="718.4" y="238.1" text-anchor="middle" font-size="9.7" textLength="15" lengthAdjust="spacingAndGlyphs">150</text>
<text x="397.6" y="216.97" text-anchor="end" font-size="9.7" textLength="12.4" lengthAdjust="spacingAndGlyphs">−5</text>
<text x="397.6" y="184.65" text-anchor="end" font-size="9.7" textLength="5" lengthAdjust="spacingAndGlyphs">0</text>
<text x="397.6" y="152.34" text-anchor="end" font-size="9.7" textLength="5" lengthAdjust="spacingAndGlyphs">5</text>
<text x="397.6" y="120.02" text-anchor="end" font-size="9.7" textLength="10" lengthAdjust="spacingAndGlyphs">10</text>
<text x="397.6" y="87.7" text-anchor="end" font-size="9.7" textLength="10" lengthAdjust="spacingAndGlyphs">15</text>
<text x="397.6" y="55.39" text-anchor="end" font-size="9.7" textLength="10" lengthAdjust="spacingAndGlyphs">20</text>
<text x="397.6" y="23.08" text-anchor="end" font-size="9.7" textLength="10" lengthAdjust="spacingAndGlyphs">25</text>
<text y="249.8" font-size="10"><tspan x="525.8" textLength="35" lengthAdjust="spacingAndGlyphs">Velocity</tspan><tspan x="564.5" textLength="29.8" lengthAdjust="spacingAndGlyphs">(km/s)</tspan></text>
<text transform="translate(380.5 119.28) rotate(-90)" y="0" font-size="10"><tspan x="-56.2" textLength="18.5" lengthAdjust="spacingAndGlyphs">Flux</tspan><tspan x="-34.4" textLength="33.8" lengthAdjust="spacingAndGlyphs">Density</tspan><tspan x="3.3" textLength="55" lengthAdjust="spacingAndGlyphs">(mJy/beam)</tspan></text>
<text y="8.7" font-size="12"><tspan x="487.4" textLength="84.3" lengthAdjust="spacingAndGlyphs">G071.150+00.397</tspan><tspan x="579.2" textLength="56.6" lengthAdjust="spacingAndGlyphs">non-tapered</tspan></text>
<rect x="578.9" y="15.85" width="136.2" height="10.4" rx="1.2" fill="#fff" fill-opacity="0.8" stroke="#ccc" stroke-width="0.6"/>
<path d="M581.2 20.65h13.5" stroke="#f00" stroke-width="1.2"/>
<text x="599.3" y="23.05" font-size="7.1" stroke="#111" stroke-width="0.22" textLength="113.3" lengthAdjust="spacingAndGlyphs">Amp: 21.85; Center: -13.0; FWHM: 23.9</text>
<clipPath id="clip_p3"><rect x="30.4" y="289.4" width="316.15" height="213.4"/></clipPath>
<g clip-path="url(#clip_p3)" fill="none" stroke-linejoin="miter">
<path d="M30.4 457.75H346.55" stroke="#1a1a1a" stroke-width="1.25"/>
<path d="M30.72 453.63H30.86V458.63H31.47V466.7H32.42V457.84H33.38V467.75H34.33V458.89H35.15V457.05H36.03V451.61H37.05V446.88H37.87V439.77H38.55V447.66H39.43V444.77H40.52V433.9H41.61V440.74H42.7V444.77H43.79V453.01H44.88V461.17H46.1V476.78H47.33V453.01H48.15V460.47H48.76V472.57H49.44V459.77H50.12V471.69H50.8V463.89H51.82V459.77H53.32V451.61H54.68V465.91H55.77V456.35H56.99V458.45H58.22V463.19H59.37V471.34H60.19V455.56H60.73V447.31H61.41V455.12H62.09V446.35H62.77V455.47H63.8V440.74H65.16V416.88H66.45V423.02H67.41V436.61H68.09V467.31H68.97V450.3H69.99V444.16H71.01V433.9H72.1V440.74H73.26V451.61H74.42V459.77H75.44V443.45H76.46V454.94H77.55V445.21H78.63V455.29H79.72V443.81H80.68V464.59H81.56V444.16H82.58V458.45H83.6V461.17H84.62V453.01H85.71V455.73H86.6V471.34H87.41V448.19H88.57V448.89H89.93V455.73H91.29V458.45H92.65V465.2H93.88V470.03H95.03V466.61H96.19V452.31H97.42V453.01H98.78V457.05H100.14V459.15H101.5V460.47H102.73V449.59H103.89V454.33H105.18V452.31H106.4V466.61H107.08V465.91H107.56V460.29H108.24V465.82H108.92V460.73H109.8V455.73H110.82V459.77H111.71V474.76H112.39V460.21H113V466.52H113.68V460.64H114.36V466.26H115.11V458.45H116.13V461.17H117.29V451.61H118.38V464.59H119.47V457.04H120.63V454.32H121.71V449.58H122.46V448.61H123.21V454.05H124.16V449.12H125.34V451.56H126.72V455.64H128.08V462.33H129.44V466.36H130.81V470.34H132.17V459.15H133.53V457.51H134.89V455.62H136.11V453.77H137.14V459.91H138.29V460.87H139.52V449.38H140.74V450.12H142.1V450.23H143.33V440.85H144.49V433.11H145.57V448.89H146.73V439.07H148.09V424.12H149.45V417.49H150.81V416.57H152.04V403.09H153.13V407.45H154.22V385.45H155.37V364.01H156.67V356.21H157.82V341.24H158.98V323.98H160.2V317.22H161.29V339.26H162.45V324.26H163.74V317.47H164.97V309.36H166.19V306.92H167.42V320.24H168.44V312.91H169.39V335.48H170.41V323.04H171.43V327.27H172.45V323.19H173.54V339.09H174.64V343.96H175.66V368.4H176.81V355.09H178.1V402.4H179.26V380.88H180.35V401.78H181.44V402.98H182.6V422.08H183.75V423.16H184.91V432.36H186.06V426.48H187.16V448.49H188.25V449.4H189.33V438.82H190.28V463.21H191.24V445.62H192.4V448.85H193.55V461.05H194.78V463.73H196V439.31H197.36V443.45H198.73V454.79H199.75V463.89H200.56V467.89H201.24V464.23H201.92V467.83H202.61V464.83H203.49V439.14H204.64V448.77H205.94V451.54H207.16V458.4H208.39V462.46H209.41V468.34H210.09V465.54H210.77V468.35H211.45V465.28H212.47V453.01H213.63V448.89H214.65V459.77H215.88V466.61H217.1V465.2H218.26V457.05H219.41V454.33H220.64V438.02H222.36V446.17H224.08V446.88H225.44V458.45H226.81V473.45H228.03V459.77H229.19V452.31H230.48V455.73H231.84V457.05H233.2V453.01H234.56V451.61H235.79V466.61H237.01V463.89H238.38V465.2H239.6V484.06H240.69V461.17H241.85V448.19H243.14V447.49H244.5V459.77H245.86V447.4H246.88V459.5H247.56V448.02H248.24V458.8H248.79V467.31H249.61V451.61H250.9V452.31H252.26V453.01H253.62V454.33H254.98V458.45H256.34V453.01H257.57V440.74H258.66V475.47H259.81V453.01H261.1V454.33H262.33V463.89H263.42V447.49H264.44V443.45H265.46V459.77H266.48V458.98H267.3V463.71H267.98V458.89H268.66V464.06H269.34V458.63H270.02V463.89H270.84V458.45H271.86V442.05H273.08V447.49H274.24V468.1H275.06V466.26H275.74V468.19H276.42V465.99H277.1V467.92H277.78V466.08H278.46V463.89H279.34V453.01H280.44V449.59H281.59V453.01H282.75V462.49H283.97V459.15H285.13V463.89H286.15V470.73H287.24V459.77H288.47V452.31H289.76V453.01H290.92V445.47H292V453.63H293.23V467.31H294.05V459.94H294.52V467.22H295.2V460.03H296.22V435.3H297.45V472.05H298.6V455.73H299.76V454.33H300.78V440.74H301.26" stroke="#000" stroke-width="1.15"/>
<path d="M137.61 462.49H138.29V464.59H139.52V454.33H140.74V457.05H142.1V459.77H143.33V453.01H144.49V448.89H145.57V468.01H146.73V463.89H148.09V455.73H149.45V457.05H150.81V465.2H152.04V459.77H153.13V472.75H154.22V459.77H155.37V448.89H156.67V453.01H157.82V446.17H158.98V440.03H160.2V441.44H161.29V470.73H162.45V462.49H163.74V461.17H164.97V455.73H166.19V454.33H167.42V466.61H168.44V457.05H169.39V476.17H170.41V458.45H171.43V457.05H172.45V445.47H173.54V453.01H174.64V448.89H175.66V465.2H176.81V440.03H178.1V476.78H179.26V446.17H180.35V458.45H181.44V451.61H182.6V462.49H183.75V457.05H184.91V459.77H186.06V448.89H187.16V466.61H188.25V463.89H189.33V450.3H190.28V472.75H191.24V453.01H192.4V454.33H193.55V465.2H194.78V466.61H195.46" stroke="#bf00bf" stroke-width="1.15"/>
<path d="M30.4 457.75L30.8 457.75L31.19 457.75L31.59 457.75L31.98 457.75L32.38 457.75L32.77 457.75L33.17 457.75L33.56 457.75L33.96 457.75L34.35 457.75L34.75 457.75L35.14 457.75L35.54 457.75L35.93 457.75L36.33 457.75L36.72 457.75L37.12 457.75L37.51 457.75L37.91 457.75L38.3 457.75L38.7 457.75L39.09 457.75L39.49 457.75L39.88 457.75L40.28 457.75L40.67 457.75L41.07 457.75L41.47 457.75L41.86 457.75L42.26 457.75L42.65 457.75L43.05 457.75L43.44 457.75L43.84 457.75L44.23 457.75L44.63 457.75L45.02 457.75L45.42 457.75L45.81 457.75L46.21 457.75L46.6 457.75L47 457.75L47.39 457.75L47.79 457.75L48.18 457.75L48.58 457.75L48.97 457.75L49.37 457.75L49.76 457.75L50.16 457.75L50.55 457.75L50.95 457.75L51.34 457.75L51.74 457.75L52.14 457.75L52.53 457.75L52.93 457.75L53.32 457.75L53.72 457.75L54.11 457.75L54.51 457.75L54.9 457.75L55.3 457.75L55.69 457.75L56.09 457.75L56.48 457.75L56.88 457.75L57.27 457.75L57.67 457.75L58.06 457.75L58.46 457.75L58.85 457.75L59.25 457.75L59.64 457.75L60.04 457.75L60.43 457.75L60.83 457.75L61.22 457.75L61.62 457.75L62.02 457.75L62.41 457.75L62.81 457.75L63.2 457.75L63.6 457.75L63.99 457.75L64.39 457.75L64.78 457.75L65.18 457.75L65.57 457.75L65.97 457.75L66.36 457.75L66.76 457.75L67.15 457.75L67.55 457.75L67.94 457.75L68.34 457.75L68.73 457.75L69.13 457.75L69.52 457.75L69.92 457.75L70.31 457.75L70.71 457.75L71.1 457.75L71.5 457.75L71.89 457.75L72.29 457.75L72.69 457.75L73.08 457.75L73.48 457.75L73.87 457.75L74.27 457.75L74.66 457.75L75.06 457.75L75.45 457.75L75.85 457.75L76.24 457.75L76.64 457.75L77.03 457.75L77.43 457.75L77.82 457.75L78.22 457.75L78.61 457.75L79.01 457.75L79.4 457.75L79.8 457.75L80.19 457.75L80.59 457.75L80.98 457.75L81.38 457.75L81.77 457.75L82.17 457.75L82.56 457.75L82.96 457.75L83.36 457.75L83.75 457.75L84.15 457.75L84.54 457.75L84.94 457.75L85.33 457.75L85.73 457.75L86.12 457.75L86.52 457.75L86.91 457.75L87.31 457.75L87.7 457.75L88.1 457.75L88.49 457.75L88.89 457.75L89.28 457.75L89.68 457.75L90.07 457.75L90.47 457.75L90.86 457.75L91.26 457.75L91.65 457.75L92.05 457.75L92.44 457.75L92.84 457.75L93.23 457.75L93.63 457.75L94.03 457.75L94.42 457.75L94.82 457.75L95.21 457.75L95.61 457.75L96 457.75L96.4 457.75L96.79 457.75L97.19 457.75L97.58 457.75L97.98 457.75L98.37 457.75L98.77 457.75L99.16 457.75L99.56 457.75L99.95 457.75L100.35 457.75L100.74 457.75L101.14 457.75L101.53 457.75L101.93 457.75L102.32 457.75L102.72 457.75L103.11 457.75L103.51 457.75L103.9 457.75L104.3 457.75L104.7 457.75L105.09 457.75L105.49 457.75L105.88 457.75L106.28 457.75L106.67 457.75L107.07 457.75L107.46 457.75L107.86 457.75L108.25 457.75L108.65 457.75L109.04 457.75L109.44 457.75L109.83 457.75L110.23 457.75L110.62 457.75L111.02 457.75L111.41 457.75L111.81 457.75L112.2 457.75L112.6 457.75L112.99 457.75L113.39 457.75L113.78 457.75L114.18 457.75L114.57 457.75L114.97 457.75L115.37 457.75L115.76 457.75L116.16 457.75L116.55 457.75L116.95 457.75L117.34 457.75L117.74 457.75L118.13 457.75L118.53 457.75L118.92 457.75L119.32 457.75L119.71 457.75L120.11 457.75L120.5 457.74L120.9 457.74L121.29 457.74L121.69 457.74L122.08 457.74L122.48 457.74L122.87 457.73L123.27 457.73L123.66 457.73L124.06 457.73L124.45 457.72L124.85 457.72L125.25 457.71L125.64 457.7L126.04 457.7L126.43 457.69L126.83 457.68L127.22 457.66L127.62 457.65L128.01 457.63L128.41 457.62L128.8 457.6L129.2 457.57L129.59 457.55L129.99 457.52L130.38 457.48L130.78 457.44L131.17 457.4L131.57 457.35L131.96 457.29L132.36 457.23L132.75 457.15L133.15 457.07L133.54 456.98L133.94 456.88L134.33 456.77L134.73 456.64L135.12 456.5L135.52 456.34L135.92 456.17L136.31 455.97L136.71 455.76L137.1 455.52L137.5 455.26L137.89 454.97L138.29 454.65L138.68 454.3L139.08 453.92L139.47 453.5L139.87 453.05L140.26 452.55L140.66 452.01L141.05 451.42L141.45 450.78L141.84 450.09L142.24 449.34L142.63 448.54L143.03 447.67L143.42 446.73L143.82 445.73L144.21 444.65L144.61 443.5L145 442.27L145.4 440.96L145.79 439.57L146.19 438.09L146.59 436.52L146.98 434.86L147.38 433.11L147.77 431.26L148.17 429.32L148.56 427.28L148.96 425.14L149.35 422.91L149.75 420.58L150.14 418.15L150.54 415.62L150.93 413L151.33 410.28L151.72 407.48L152.12 404.59L152.51 401.62L152.91 398.57L153.3 395.45L153.7 392.26L154.09 389.01L154.49 385.71L154.88 382.36L155.28 378.97L155.67 375.55L156.07 372.11L156.46 368.66L156.86 365.21L157.26 361.77L157.65 358.35L158.05 354.96L158.44 351.61L158.84 348.32L159.23 345.1L159.63 341.95L160.02 338.89L160.42 335.93L160.81 333.08L161.21 330.36L161.6 327.77L162 325.33L162.39 323.04L162.79 320.91L163.18 318.96L163.58 317.19L163.97 315.61L164.37 314.23L164.76 313.05L165.16 312.07L165.55 311.31L165.95 310.77L166.34 310.44L166.74 310.33L167.13 310.44L167.53 310.77L167.93 311.31L168.32 312.07L168.72 313.05L169.11 314.23L169.51 315.61L169.9 317.19L170.3 318.96L170.69 320.91L171.09 323.04L171.48 325.33L171.88 327.77L172.27 330.36L172.67 333.08L173.06 335.93L173.46 338.89L173.85 341.95L174.25 345.1L174.64 348.32L175.04 351.61L175.43 354.96L175.83 358.35L176.22 361.77L176.62 365.21L177.01 368.66L177.41 372.11L177.8 375.55L178.2 378.97L178.6 382.36L178.99 385.71L179.39 389.01L179.78 392.26L180.18 395.45L180.57 398.57L180.97 401.62L181.36 404.59L181.76 407.48L182.15 410.28L182.55 413L182.94 415.62L183.34 418.15L183.73 420.58L184.13 422.91L184.52 425.14L184.92 427.28L185.31 429.32L185.71 431.26L186.1 433.11L186.5 434.86L186.89 436.52L187.29 438.09L187.68 439.57L188.08 440.96L188.48 442.27L188.87 443.5L189.27 444.65L189.66 445.73L190.06 446.73L190.45 447.67L190.85 448.54L191.24 449.34L191.64 450.09L192.03 450.78L192.43 451.42L192.82 452.01L193.22 452.55L193.61 453.05L194.01 453.5L194.4 453.92L194.8 454.3L195.19 454.65L195.59 454.97L195.98 455.26L196.38 455.52L196.77 455.76L197.17 455.97L197.56 456.17L197.96 456.34L198.35 456.5L198.75 456.64L199.15 456.77L199.54 456.88L199.94 456.98L200.33 457.07L200.73 457.15L201.12 457.23L201.52 457.29L201.91 457.35L202.31 457.4L202.7 457.44L203.1 457.48L203.49 457.52L203.89 457.55L204.28 457.57L204.68 457.6L205.07 457.62L205.47 457.63L205.86 457.65L206.26 457.66L206.65 457.68L207.05 457.69L207.44 457.7L207.84 457.7L208.23 457.71L208.63 457.72L209.02 457.72L209.42 457.73L209.82 457.73L210.21 457.73L210.61 457.73L211 457.74L211.4 457.74L211.79 457.74L212.19 457.74L212.58 457.74L212.98 457.74L213.37 457.75L213.77 457.75L214.16 457.75L214.56 457.75L214.95 457.75L215.35 457.75L215.74 457.75L216.14 457.75L216.53 457.75L216.93 457.75L217.32 457.75L217.72 457.75L218.11 457.75L218.51 457.75L218.9 457.75L219.3 457.75L219.69 457.75L220.09 457.75L220.49 457.75L220.88 457.75L221.28 457.75L221.67 457.75L222.07 457.75L222.46 457.75L222.86 457.75L223.25 457.75L223.65 457.75L224.04 457.75L224.44 457.75L224.83 457.75L225.23 457.75L225.62 457.75L226.02 457.75L226.41 457.75L226.81 457.75L227.2 457.75L227.6 457.75L227.99 457.75L228.39 457.75L228.78 457.75L229.18 457.75L229.57 457.75L229.97 457.75L230.36 457.75L230.76 457.75L231.16 457.75L231.55 457.75L231.95 457.75L232.34 457.75L232.74 457.75L233.13 457.75L233.53 457.75L233.92 457.75L234.32 457.75L234.71 457.75L235.11 457.75L235.5 457.75L235.9 457.75L236.29 457.75L236.69 457.75L237.08 457.75L237.48 457.75L237.87 457.75L238.27 457.75L238.66 457.75L239.06 457.75L239.45 457.75L239.85 457.75L240.24 457.75L240.64 457.75L241.03 457.75L241.43 457.75L241.83 457.75L242.22 457.75L242.62 457.75L243.01 457.75L243.41 457.75L243.8 457.75L244.2 457.75L244.59 457.75L244.99 457.75L245.38 457.75L245.78 457.75L246.17 457.75L246.57 457.75L246.96 457.75L247.36 457.75L247.75 457.75L248.15 457.75L248.54 457.75L248.94 457.75L249.33 457.75L249.73 457.75L250.12 457.75L250.52 457.75L250.91 457.75L251.31 457.75L251.71 457.75L252.1 457.75L252.5 457.75L252.89 457.75L253.29 457.75L253.68 457.75L254.08 457.75L254.47 457.75L254.87 457.75L255.26 457.75L255.66 457.75L256.05 457.75L256.45 457.75L256.84 457.75L257.24 457.75L257.63 457.75L258.03 457.75L258.42 457.75L258.82 457.75L259.21 457.75L259.61 457.75L260 457.75L260.4 457.75L260.79 457.75L261.19 457.75L261.58 457.75L261.98 457.75L262.38 457.75L262.77 457.75L263.17 457.75L263.56 457.75L263.96 457.75L264.35 457.75L264.75 457.75L265.14 457.75L265.54 457.75L265.93 457.75L266.33 457.75L266.72 457.75L267.12 457.75L267.51 457.75L267.91 457.75L268.3 457.75L268.7 457.75L269.09 457.75L269.49 457.75L269.88 457.75L270.28 457.75L270.67 457.75L271.07 457.75L271.46 457.75L271.86 457.75L272.25 457.75L272.65 457.75L273.05 457.75L273.44 457.75L273.84 457.75L274.23 457.75L274.63 457.75L275.02 457.75L275.42 457.75L275.81 457.75L276.21 457.75L276.6 457.75L277 457.75L277.39 457.75L277.79 457.75L278.18 457.75L278.58 457.75L278.97 457.75L279.37 457.75L279.76 457.75L280.16 457.75L280.55 457.75L280.95 457.75L281.34 457.75L281.74 457.75L282.13 457.75L282.53 457.75L282.92 457.75L283.32 457.75L283.72 457.75L284.11 457.75L284.51 457.75L284.9 457.75L285.3 457.75L285.69 457.75L286.09 457.75L286.48 457.75L286.88 457.75L287.27 457.75L287.67 457.75L288.06 457.75L288.46 457.75L288.85 457.75L289.25 457.75L289.64 457.75L290.04 457.75L290.43 457.75L290.83 457.75L291.22 457.75L291.62 457.75L292.01 457.75L292.41 457.75L292.8 457.75L293.2 457.75L293.59 457.75L293.99 457.75L294.39 457.75L294.78 457.75L295.18 457.75L295.57 457.75L295.97 457.75L296.36 457.75L296.76 457.75L297.15 457.75L297.55 457.75L297.94 457.75L298.34 457.75L298.73 457.75L299.13 457.75L299.52 457.75L299.92 457.75L300.31 457.75L300.71 457.75L301.1 457.75" stroke="#f00" stroke-width="1.3" stroke-linejoin="round"/>
</g>
<rect x="30.4" y="289.4" width="316.15" height="213.4" fill="none" stroke="#666" stroke-width="1.3"/>
<path d="M30.4 502.8v2.8M69.92 502.8v2.8M109.44 502.8v2.8M148.96 502.8v2.8M188.48 502.8v2.8M227.99 502.8v2.8M267.51 502.8v2.8M307.03 502.8v2.8M346.55 502.8v2.8M30.4 501.6h-2.8M30.4 457.75h-2.8M30.4 413.9h-2.8M30.4 370.05h-2.8M30.4 326.2h-2.8" stroke="#555" stroke-width="1.0" fill="none"/>
<text x="30.4" y="514.9" text-anchor="middle" font-size="9.7" textLength="22.4" lengthAdjust="spacingAndGlyphs">−250</text>
<text x="69.92" y="514.9" text-anchor="middle" font-size="9.7" textLength="22.4" lengthAdjust="spacingAndGlyphs">−200</text>
<text x="109.44" y="514.9" text-anchor="middle" font-size="9.7" textLength="22.4" lengthAdjust="spacingAndGlyphs">−150</text>
<text x="148.96" y="514.9" text-anchor="middle" font-size="9.7" textLength="22.4" lengthAdjust="spacingAndGlyphs">−100</text>
<text x="188.48" y="514.9" text-anchor="middle" font-size="9.7" textLength="17.4" lengthAdjust="spacingAndGlyphs">−50</text>
<text x="227.99" y="514.9" text-anchor="middle" font-size="9.7" textLength="5" lengthAdjust="spacingAndGlyphs">0</text>
<text x="267.51" y="514.9" text-anchor="middle" font-size="9.7" textLength="10" lengthAdjust="spacingAndGlyphs">50</text>
<text x="307.03" y="514.9" text-anchor="middle" font-size="9.7" textLength="15" lengthAdjust="spacingAndGlyphs">100</text>
<text x="346.55" y="514.9" text-anchor="middle" font-size="9.7" textLength="15" lengthAdjust="spacingAndGlyphs">150</text>
<text x="26" y="505.35" text-anchor="end" font-size="9.7" textLength="12.4" lengthAdjust="spacingAndGlyphs">−5</text>
<text x="26" y="461.5" text-anchor="end" font-size="9.7" textLength="5" lengthAdjust="spacingAndGlyphs">0</text>
<text x="26" y="417.65" text-anchor="end" font-size="9.7" textLength="5" lengthAdjust="spacingAndGlyphs">5</text>
<text x="26" y="373.8" text-anchor="end" font-size="9.7" textLength="10" lengthAdjust="spacingAndGlyphs">10</text>
<text x="26" y="329.95" text-anchor="end" font-size="9.7" textLength="10" lengthAdjust="spacingAndGlyphs">15</text>
<text y="526.6" font-size="10"><tspan x="154.07" textLength="35" lengthAdjust="spacingAndGlyphs">Velocity</tspan><tspan x="192.78" textLength="29.8" lengthAdjust="spacingAndGlyphs">(km/s)</tspan></text>
<text transform="translate(8.9 396.1) rotate(-90)" y="0" font-size="10"><tspan x="-56.2" textLength="18.5" lengthAdjust="spacingAndGlyphs">Flux</tspan><tspan x="-34.4" textLength="33.8" lengthAdjust="spacingAndGlyphs">Density</tspan><tspan x="3.3" textLength="55" lengthAdjust="spacingAndGlyphs">(mJy/beam)</tspan></text>
<text y="285.4" font-size="12"><tspan x="116.1" textLength="84.4" lengthAdjust="spacingAndGlyphs">G124.637+02.535</tspan><tspan x="207.2" textLength="57.3" lengthAdjust="spacingAndGlyphs">non-tapered</tspan></text>
<rect x="207.05" y="292.7" width="136.2" height="10.4" rx="1.2" fill="#fff" fill-opacity="0.8" stroke="#ccc" stroke-width="0.6"/>
<path d="M209.35 297.5h13.5" stroke="#f00" stroke-width="1.2"/>
<text x="227.45" y="299.9" font-size="7.1" stroke="#111" stroke-width="0.22" textLength="113.3" lengthAdjust="spacingAndGlyphs">Amp: 16.81; Center: -77.5; FWHM: 30.5</text>
<clipPath id="clip_p4"><rect x="402" y="289.4" width="316.4" height="213.4"/></clipPath>
<g clip-path="url(#clip_p4)" fill="none" stroke-linejoin="miter">
<path d="M402 439.3H718.4" stroke="#1a1a1a" stroke-width="1.25"/>
<path d="M402.55 448.42H403.1V461.22H404.28V417.54H405.46V464.9H406.65V480.26H408.01V466.66H409.29V448.42H410.38V429.38H411.65V446.66H413.01V435.62H414.38V430.18H415.93V429.38H417.48V450.34H418.94V425.7H420.39V471.14H421.85V444.74H423.12V431.14H424.4V412.1H425.86V415.62H427.13V452.1H428.4V459.3H429.86V404.74H431.31V464.9H432.77V424.74H434.04V433.86H435.14V419.3H436.23V466.66H437.51V468.42H439.15V426.66H440.96V482.18H442.6V450.34H444.06V408.42H445.52V422.98H446.98V424.74H448.43V476.74H449.89V414.82H451.34V423.94H452.89V424.74H454.62V462.98H456.44V423.94H458.26V408.42H459.9V420.26H461.45V424.74H462.99V435.62H464.45V448.42H465.73V425.7H467V423.94H468.28V456.58H469.55V446.66H471.01V430.18H472.46V450.34H474.1V470.34H475.74V455.78H477.2V444.74H478.75V428.42H480.29V454.82H481.75V446.66H483.2V434.82H484.75V458.5H486.3V435.62H487.85V425.7H489.4V430.18H491.03V460.26H492.76V433.86H494.31V432.9H495.95V401.06H497.59V419.3H499.05V457.54H500.5V450.34H501.96V435.62H503.41V431.14H504.87V417.54H506.32V448.42H507.78V422.02H509.24V422.98H510.7V454.82H512.15V462.98H513.79V413.86H515.43V420.26H516.89V465.69H518.35V460.24H519.62V427.43H520.9V463.89H522.35V454.74H523.81V450.2H525.26V426.43H526.72V420.68H528.18V429.56H529.64V461.04H530.83V444.4H531.83V400.24H533.11V414.87H534.56V446.42H536.02V422.8H537.39V419.06H538.57V408.65H539.76V443.91H541.12V414.26H542.58V418.25H543.94V413.95H545.21V427.97H546.58V414.91H547.95V363.95H549.32V354.29H550.68V370.22H551.86V380H553.14V351.75H554.41V350.62H555.5V327.62H556.68V354.81H558.05V375.66H559.42V306.81H560.79V323.56H562.15V350.97H563.42V338.94H564.61V369.41H565.79V361.63H567.06V344.67H568.43V383.22H569.89V380.19H571.25V382.45H572.53V390.71H573.71V414.21H574.89V388.74H576.17V414.78H577.53V415.01H578.81V423.43H579.9V404.74H581.18V414.7H582.45V464.21H583.54V438.62H584.63V405.48H585.91V427.9H587.36V422.56H588.82V428.74H590.28V423.01H591.74V417.75H593.19V425.34H594.65V430.92H595.92V441.07H597.1V483.85H598.47V426.61H599.84V408.39H601.21V419.28H602.48V445.69H603.75V435.61H605.21V437.54H606.66V446.66H607.94V476.74H609.21V432.9H610.49V446.66H611.77V419.3H613.13V470.34H614.4V441.22H615.77V453.86H617.22V403.78H618.59V450.34H619.87V431.14H621.05V412.1H622.23V477.54H623.51V461.22H624.87V419.3H626.33V444.74H627.78V436.58H629.24V446.66H630.7V477.54H632.16V462.98H633.61V431.14H634.98V459.3H636.25V444.74H637.62V442.02H638.98V413.86H640.35V455.78H641.72V444.74H643.08V424.74H644.54V435.62H645.9V428.42H647.27V433.86H648.63V426.66H649.81V450.34H650.91V420.26H652.09V435.62H653.36V448.42H654.54V433.86H655.73V453.86H657.09V459.3H658.55V431.14H660V454.82H661.46V437.54H662.73V410.18H663.92V442.98H665.19V441.22H666.56V428.42H667.92V462.02H669.2V422.98H670.56V422.98H672.02V444.74H673.38V466.66H674.66V473.86H675.84V450.34H676.94V419.3H678.03V402.98H679.21V444.74H680.48V455.78H681.67V436.58H682.85V445.7H684.22V387.94H685.59V452.1H686.77V431.14H687.95V453.86H689.22V432.1H690.41V446.66H691.59V415.62H692.23" stroke="#000" stroke-width="1.3"/>
<path d="M539.12 418.34H539.76V456.58H541.12V431.14H542.58V440.26H543.94V441.22H545.21V461.22H546.58V455.78H547.95V412.1H549.32V411.14H550.68V434.82H551.86V451.14H553.14V431.14H554.41V435.62H555.5V417.54H556.68V449.38H558.05V473.86H559.42V406.5H560.79V422.98H562.15V448.42H563.42V432.9H564.61V459.3H565.79V445.7H567.06V422.02H568.43V452.1H569.89V440.26H571.25V434.82H572.53V435.62H573.71V453.06H574.89V421.06H576.17V441.22H577.53V435.62H578.81V440.26H579.9V418.34H581.18V424.74H582.45V472.1H583" stroke="#bf00bf" stroke-width="1.15"/>
<path d="M402 439.3L402.4 439.3L402.79 439.3L403.19 439.3L403.58 439.3L403.98 439.3L404.37 439.3L404.77 439.3L405.16 439.3L405.56 439.3L405.95 439.3L406.35 439.3L406.75 439.3L407.14 439.3L407.54 439.3L407.93 439.3L408.33 439.3L408.72 439.3L409.12 439.3L409.51 439.3L409.91 439.3L410.31 439.3L410.7 439.3L411.1 439.3L411.49 439.3L411.89 439.3L412.28 439.3L412.68 439.3L413.07 439.3L413.47 439.3L413.87 439.3L414.26 439.3L414.66 439.3L415.05 439.3L415.45 439.3L415.84 439.3L416.24 439.3L416.63 439.3L417.03 439.3L417.42 439.3L417.82 439.3L418.22 439.3L418.61 439.3L419.01 439.3L419.4 439.3L419.8 439.3L420.19 439.3L420.59 439.3L420.98 439.3L421.38 439.3L421.77 439.3L422.17 439.3L422.57 439.3L422.96 439.3L423.36 439.3L423.75 439.3L424.15 439.3L424.54 439.3L424.94 439.3L425.33 439.3L425.73 439.3L426.13 439.3L426.52 439.3L426.92 439.3L427.31 439.3L427.71 439.3L428.1 439.3L428.5 439.3L428.89 439.3L429.29 439.3L429.69 439.3L430.08 439.3L430.48 439.3L430.87 439.3L431.27 439.3L431.66 439.3L432.06 439.3L432.45 439.3L432.85 439.3L433.24 439.3L433.64 439.3L434.04 439.3L434.43 439.3L434.83 439.3L435.22 439.3L435.62 439.3L436.01 439.3L436.41 439.3L436.8 439.3L437.2 439.3L437.6 439.3L437.99 439.3L438.39 439.3L438.78 439.3L439.18 439.3L439.57 439.3L439.97 439.3L440.36 439.3L440.76 439.3L441.15 439.3L441.55 439.3L441.95 439.3L442.34 439.3L442.74 439.3L443.13 439.3L443.53 439.3L443.92 439.3L444.32 439.3L444.71 439.3L445.11 439.3L445.5 439.3L445.9 439.3L446.3 439.3L446.69 439.3L447.09 439.3L447.48 439.3L447.88 439.3L448.27 439.3L448.67 439.3L449.06 439.3L449.46 439.3L449.86 439.3L450.25 439.3L450.65 439.3L451.04 439.3L451.44 439.3L451.83 439.3L452.23 439.3L452.62 439.3L453.02 439.3L453.41 439.3L453.81 439.3L454.21 439.3L454.6 439.3L455 439.3L455.39 439.3L455.79 439.3L456.18 439.3L456.58 439.3L456.97 439.3L457.37 439.3L457.77 439.3L458.16 439.3L458.56 439.3L458.95 439.3L459.35 439.3L459.74 439.3L460.14 439.3L460.53 439.3L460.93 439.3L461.32 439.3L461.72 439.3L462.12 439.3L462.51 439.3L462.91 439.3L463.3 439.3L463.7 439.3L464.09 439.3L464.49 439.3L464.88 439.3L465.28 439.3L465.68 439.3L466.07 439.3L466.47 439.3L466.86 439.3L467.26 439.3L467.65 439.3L468.05 439.3L468.44 439.3L468.84 439.3L469.24 439.3L469.63 439.3L470.03 439.3L470.42 439.3L470.82 439.3L471.21 439.3L471.61 439.3L472 439.3L472.4 439.3L472.79 439.3L473.19 439.3L473.59 439.3L473.98 439.3L474.38 439.3L474.77 439.3L475.17 439.3L475.56 439.3L475.96 439.3L476.35 439.3L476.75 439.3L477.14 439.3L477.54 439.3L477.94 439.3L478.33 439.3L478.73 439.3L479.12 439.3L479.52 439.3L479.91 439.3L480.31 439.3L480.7 439.3L481.1 439.3L481.5 439.3L481.89 439.3L482.29 439.3L482.68 439.3L483.08 439.3L483.47 439.3L483.87 439.3L484.26 439.3L484.66 439.3L485.06 439.3L485.45 439.3L485.85 439.3L486.24 439.3L486.64 439.3L487.03 439.3L487.43 439.3L487.82 439.3L488.22 439.3L488.61 439.3L489.01 439.3L489.41 439.3L489.8 439.3L490.2 439.3L490.59 439.3L490.99 439.3L491.38 439.3L491.78 439.3L492.17 439.3L492.57 439.3L492.96 439.3L493.36 439.3L493.76 439.3L494.15 439.3L494.55 439.3L494.94 439.3L495.34 439.3L495.73 439.3L496.13 439.3L496.52 439.3L496.92 439.3L497.32 439.3L497.71 439.3L498.11 439.3L498.5 439.3L498.9 439.3L499.29 439.3L499.69 439.3L500.08 439.3L500.48 439.3L500.88 439.3L501.27 439.3L501.67 439.3L502.06 439.3L502.46 439.3L502.85 439.3L503.25 439.3L503.64 439.3L504.04 439.3L504.43 439.3L504.83 439.3L505.23 439.3L505.62 439.3L506.02 439.3L506.41 439.3L506.81 439.3L507.2 439.3L507.6 439.3L507.99 439.3L508.39 439.3L508.78 439.3L509.18 439.3L509.58 439.3L509.97 439.3L510.37 439.3L510.76 439.3L511.16 439.3L511.55 439.3L511.95 439.3L512.34 439.3L512.74 439.3L513.14 439.3L513.53 439.3L513.93 439.3L514.32 439.3L514.72 439.3L515.11 439.3L515.51 439.3L515.9 439.3L516.3 439.3L516.69 439.29L517.09 439.29L517.49 439.29L517.88 439.29L518.28 439.29L518.67 439.29L519.07 439.28L519.46 439.28L519.86 439.28L520.25 439.27L520.65 439.27L521.05 439.26L521.44 439.26L521.84 439.25L522.23 439.24L522.63 439.23L523.02 439.22L523.42 439.21L523.81 439.19L524.21 439.18L524.61 439.16L525 439.14L525.4 439.11L525.79 439.08L526.19 439.05L526.58 439.01L526.98 438.97L527.37 438.92L527.77 438.87L528.16 438.81L528.56 438.74L528.96 438.67L529.35 438.58L529.75 438.49L530.14 438.38L530.54 438.27L530.93 438.13L531.33 437.99L531.72 437.83L532.12 437.65L532.51 437.45L532.91 437.23L533.31 436.99L533.7 436.73L534.1 436.44L534.49 436.12L534.89 435.77L535.28 435.39L535.68 434.98L536.07 434.53L536.47 434.04L536.87 433.51L537.26 432.94L537.66 432.33L538.05 431.66L538.45 430.95L538.84 430.18L539.24 429.36L539.63 428.48L540.03 427.54L540.42 426.55L540.82 425.48L541.22 424.36L541.61 423.17L542.01 421.91L542.4 420.58L542.8 419.18L543.19 417.72L543.59 416.18L543.98 414.57L544.38 412.89L544.78 411.14L545.17 409.33L545.57 407.44L545.96 405.5L546.36 403.49L546.75 401.42L547.15 399.29L547.54 397.12L547.94 394.89L548.34 392.62L548.73 390.31L549.13 387.97L549.52 385.6L549.92 383.22L550.31 380.81L550.71 378.41L551.1 376L551.5 373.6L551.89 371.22L552.29 368.86L552.69 366.54L553.08 364.26L553.48 362.03L553.87 359.86L554.27 357.76L554.66 355.74L555.06 353.8L555.45 351.95L555.85 350.21L556.25 348.57L556.64 347.05L557.04 345.66L557.43 344.39L557.83 343.26L558.22 342.26L558.62 341.42L559.01 340.72L559.41 340.17L559.8 339.78L560.2 339.54L560.6 339.46L560.99 339.54L561.39 339.78L561.78 340.17L562.18 340.72L562.57 341.42L562.97 342.26L563.36 343.26L563.76 344.39L564.15 345.66L564.55 347.05L564.95 348.57L565.34 350.21L565.74 351.95L566.13 353.8L566.53 355.74L566.92 357.76L567.32 359.86L567.71 362.03L568.11 364.26L568.51 366.54L568.9 368.86L569.3 371.22L569.69 373.6L570.09 376L570.48 378.41L570.88 380.81L571.27 383.22L571.67 385.6L572.07 387.97L572.46 390.31L572.86 392.62L573.25 394.89L573.65 397.12L574.04 399.29L574.44 401.42L574.83 403.49L575.23 405.5L575.62 407.44L576.02 409.33L576.42 411.14L576.81 412.89L577.21 414.57L577.6 416.18L578 417.72L578.39 419.18L578.79 420.58L579.18 421.91L579.58 423.17L579.98 424.36L580.37 425.48L580.77 426.55L581.16 427.54L581.56 428.48L581.95 429.36L582.35 430.18L582.74 430.95L583.14 431.66L583.53 432.33L583.93 432.94L584.33 433.51L584.72 434.04L585.12 434.53L585.51 434.98L585.91 435.39L586.3 435.77L586.7 436.12L587.09 436.44L587.49 436.73L587.88 436.99L588.28 437.23L588.68 437.45L589.07 437.65L589.47 437.83L589.86 437.99L590.26 438.13L590.65 438.27L591.05 438.38L591.44 438.49L591.84 438.58L592.24 438.67L592.63 438.74L593.03 438.81L593.42 438.87L593.82 438.92L594.21 438.97L594.61 439.01L595 439.05L595.4 439.08L595.79 439.11L596.19 439.14L596.59 439.16L596.98 439.18L597.38 439.19L597.77 439.21L598.17 439.22L598.56 439.23L598.96 439.24L599.35 439.25L599.75 439.26L600.15 439.26L600.54 439.27L600.94 439.27L601.33 439.28L601.73 439.28L602.12 439.28L602.52 439.29L602.91 439.29L603.31 439.29L603.7 439.29L604.1 439.29L604.5 439.29L604.89 439.3L605.29 439.3L605.68 439.3L606.08 439.3L606.47 439.3L606.87 439.3L607.26 439.3L607.66 439.3L608.06 439.3L608.45 439.3L608.85 439.3L609.24 439.3L609.64 439.3L610.03 439.3L610.43 439.3L610.82 439.3L611.22 439.3L611.62 439.3L612.01 439.3L612.41 439.3L612.8 439.3L613.2 439.3L613.59 439.3L613.99 439.3L614.38 439.3L614.78 439.3L615.17 439.3L615.57 439.3L615.97 439.3L616.36 439.3L616.76 439.3L617.15 439.3L617.55 439.3L617.94 439.3L618.34 439.3L618.73 439.3L619.13 439.3L619.52 439.3L619.92 439.3L620.32 439.3L620.71 439.3L621.11 439.3L621.5 439.3L621.9 439.3L622.29 439.3L622.69 439.3L623.08 439.3L623.48 439.3L623.88 439.3L624.27 439.3L624.67 439.3L625.06 439.3L625.46 439.3L625.85 439.3L626.25 439.3L626.64 439.3L627.04 439.3L627.43 439.3L627.83 439.3L628.23 439.3L628.62 439.3L629.02 439.3L629.41 439.3L629.81 439.3L630.2 439.3L630.6 439.3L630.99 439.3L631.39 439.3L631.79 439.3L632.18 439.3L632.58 439.3L632.97 439.3L633.37 439.3L633.76 439.3L634.16 439.3L634.55 439.3L634.95 439.3L635.35 439.3L635.74 439.3L636.14 439.3L636.53 439.3L636.93 439.3L637.32 439.3L637.72 439.3L638.11 439.3L638.51 439.3L638.9 439.3L639.3 439.3L639.7 439.3L640.09 439.3L640.49 439.3L640.88 439.3L641.28 439.3L641.67 439.3L642.07 439.3L642.46 439.3L642.86 439.3L643.25 439.3L643.65 439.3L644.05 439.3L644.44 439.3L644.84 439.3L645.23 439.3L645.63 439.3L646.02 439.3L646.42 439.3L646.81 439.3L647.21 439.3L647.61 439.3L648 439.3L648.4 439.3L648.79 439.3L649.19 439.3L649.58 439.3L649.98 439.3L650.37 439.3L650.77 439.3L651.16 439.3L651.56 439.3L651.96 439.3L652.35 439.3L652.75 439.3L653.14 439.3L653.54 439.3L653.93 439.3L654.33 439.3L654.72 439.3L655.12 439.3L655.52 439.3L655.91 439.3L656.31 439.3L656.7 439.3L657.1 439.3L657.49 439.3L657.89 439.3L658.28 439.3L658.68 439.3L659.08 439.3L659.47 439.3L659.87 439.3L660.26 439.3L660.66 439.3L661.05 439.3L661.45 439.3L661.84 439.3L662.24 439.3L662.63 439.3L663.03 439.3L663.43 439.3L663.82 439.3L664.22 439.3L664.61 439.3L665.01 439.3L665.4 439.3L665.8 439.3L666.19 439.3L666.59 439.3L666.98 439.3L667.38 439.3L667.78 439.3L668.17 439.3L668.57 439.3L668.96 439.3L669.36 439.3L669.75 439.3L670.15 439.3L670.54 439.3L670.94 439.3L671.34 439.3L671.73 439.3L672.13 439.3L672.52 439.3L672.92 439.3L673.31 439.3L673.71 439.3L674.1 439.3L674.5 439.3L674.89 439.3L675.29 439.3L675.69 439.3L676.08 439.3L676.48 439.3L676.87 439.3L677.27 439.3L677.66 439.3L678.06 439.3L678.45 439.3L678.85 439.3L679.25 439.3L679.64 439.3L680.04 439.3L680.43 439.3L680.83 439.3L681.22 439.3L681.62 439.3L682.01 439.3L682.41 439.3L682.8 439.3L683.2 439.3L683.6 439.3L683.99 439.3L684.39 439.3L684.78 439.3L685.18 439.3L685.57 439.3L685.97 439.3L686.36 439.3L686.76 439.3L687.16 439.3L687.55 439.3L687.95 439.3L688.34 439.3L688.74 439.3L689.13 439.3L689.53 439.3L689.92 439.3L690.32 439.3L690.71 439.3L691.11 439.3L691.51 439.3L691.9 439.3" stroke="#f00" stroke-width="1.3" stroke-linejoin="round"/>
</g>
<rect x="402" y="289.4" width="316.4" height="213.4" fill="none" stroke="#666" stroke-width="1.3"/>
<path d="M402 502.8v2.8M441.55 502.8v2.8M481.1 502.8v2.8M520.65 502.8v2.8M560.2 502.8v2.8M599.75 502.8v2.8M639.3 502.8v2.8M678.85 502.8v2.8M718.4 502.8v2.8M402 503.3h-2.8M402 471.3h-2.8M402 439.3h-2.8M402 407.3h-2.8M402 375.3h-2.8M402 343.3h-2.8M402 311.3h-2.8" stroke="#555" stroke-width="1.0" fill="none"/>
<text x="402" y="514.9" text-anchor="middle" font-size="9.7" textLength="22.4" lengthAdjust="spacingAndGlyphs">−250</text>
<text x="441.55" y="514.9" text-anchor="middle" font-size="9.7" textLength="22.4" lengthAdjust="spacingAndGlyphs">−200</text>
<text x="481.1" y="514.9" text-anchor="middle" font-size="9.7" textLength="22.4" lengthAdjust="spacingAndGlyphs">−150</text>
<text x="520.65" y="514.9" text-anchor="middle" font-size="9.7" textLength="22.4" lengthAdjust="spacingAndGlyphs">−100</text>
<text x="560.2" y="514.9" text-anchor="middle" font-size="9.7" textLength="17.4" lengthAdjust="spacingAndGlyphs">−50</text>
<text x="599.75" y="514.9" text-anchor="middle" font-size="9.7" textLength="5" lengthAdjust="spacingAndGlyphs">0</text>
<text x="639.3" y="514.9" text-anchor="middle" font-size="9.7" textLength="10" lengthAdjust="spacingAndGlyphs">50</text>
<text x="678.85" y="514.9" text-anchor="middle" font-size="9.7" textLength="15" lengthAdjust="spacingAndGlyphs">100</text>
<text x="718.4" y="514.9" text-anchor="middle" font-size="9.7" textLength="15" lengthAdjust="spacingAndGlyphs">150</text>
<text x="397.6" y="507.05" text-anchor="end" font-size="9.7" textLength="12.4" lengthAdjust="spacingAndGlyphs">−4</text>
<text x="397.6" y="475.05" text-anchor="end" font-size="9.7" textLength="12.4" lengthAdjust="spacingAndGlyphs">−2</text>
<text x="397.6" y="443.05" text-anchor="end" font-size="9.7" textLength="5" lengthAdjust="spacingAndGlyphs">0</text>
<text x="397.6" y="411.05" text-anchor="end" font-size="9.7" textLength="5" lengthAdjust="spacingAndGlyphs">2</text>
<text x="397.6" y="379.05" text-anchor="end" font-size="9.7" textLength="5" lengthAdjust="spacingAndGlyphs">4</text>
<text x="397.6" y="347.05" text-anchor="end" font-size="9.7" textLength="5" lengthAdjust="spacingAndGlyphs">6</text>
<text x="397.6" y="315.05" text-anchor="end" font-size="9.7" textLength="5" lengthAdjust="spacingAndGlyphs">8</text>
<text y="526.6" font-size="10"><tspan x="525.8" textLength="35" lengthAdjust="spacingAndGlyphs">Velocity</tspan><tspan x="564.5" textLength="29.8" lengthAdjust="spacingAndGlyphs">(km/s)</tspan></text>
<text transform="translate(380.5 396.1) rotate(-90)" y="0" font-size="10"><tspan x="-56.2" textLength="18.5" lengthAdjust="spacingAndGlyphs">Flux</tspan><tspan x="-34.4" textLength="33.8" lengthAdjust="spacingAndGlyphs">Density</tspan><tspan x="3.3" textLength="55" lengthAdjust="spacingAndGlyphs">(mJy/beam)</tspan></text>
<text y="285.4" font-size="12"><tspan x="487.4" textLength="84.3" lengthAdjust="spacingAndGlyphs">G073.878+01.023</tspan><tspan x="579.2" textLength="56.6" lengthAdjust="spacingAndGlyphs">non-tapered</tspan></text>
<rect x="582" y="292.7" width="133.1" height="10.4" rx="1.2" fill="#fff" fill-opacity="0.8" stroke="#ccc" stroke-width="0.6"/>
<path d="M584.3 297.5h13.5" stroke="#f00" stroke-width="1.2"/>
<text x="602.4" y="299.9" font-size="7.1" stroke="#111" stroke-width="0.22" textLength="110.2" lengthAdjust="spacingAndGlyphs">Amp: 6.24; Center: -49.5; FWHM: 29.6</text>
</svg>
</body></html>
